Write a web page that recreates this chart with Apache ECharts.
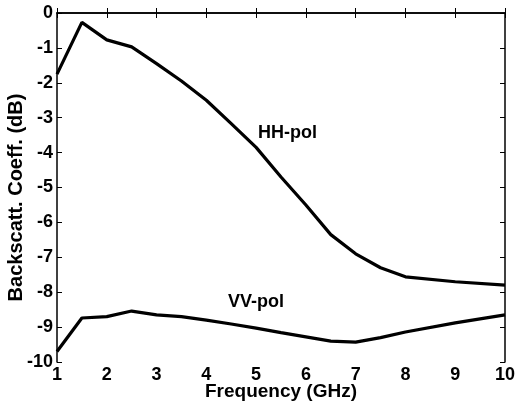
<!DOCTYPE html>
<html><head><meta charset="utf-8">
<script src="https://cdn.jsdelivr.net/npm/echarts@6/dist/echarts.min.js"></script>
<style>html,body{margin:0;padding:0;background:#fff}#c{width:518px;height:408px}</style>
</head><body><div id="c"></div>
<script>
const freq = [1, 1.5, 2, 2.5, 3, 3.5, 4, 4.5, 5, 5.5, 6, 6.5, 7, 7.5, 8, 9, 10];
const hhPol = [-1.75, -0.27, -0.77, -0.97, -1.45, -1.95, -2.5, -3.17, -3.85, -4.7, -5.5, -6.35, -6.9, -7.3, -7.56, -7.7, -7.8];
const vvPol = [-9.7, -8.74, -8.7, -8.54, -8.65, -8.7, -8.8, -8.91, -9.03, -9.16, -9.28, -9.4, -9.43, -9.3, -9.14, -8.88, -8.65];
const seriesNames = ['HH-pol', 'VV-pol'];
const xTitle = 'Frequency (GHz)';
const yTitle = 'Backscatt. Coeff. (dB)';

const font = 'Liberation Sans, Arial, sans-serif';
const chart = echarts.init(document.getElementById('c'));
const axisCommon = {
  axisLine: {show: true, lineStyle: {color: '#000', width: 1.5}},
  axisTick: {show: true, inside: true, length: 5, lineStyle: {color: '#000', width: 1}},
  splitLine: {show: false}
};
chart.setOption({
  animation: false,
  backgroundColor: '#fff',
  grid: {left: 57, right: 13, top: 13, bottom: 46, containLabel: false, outerBoundsMode: 'none'},
  xAxis: [
    Object.assign({type: 'value', min: 1, max: 10, interval: 1, position: 'bottom',
      name: xTitle, nameLocation: 'middle', nameGap: 20, nameMoveOverlap: false,
      nameTextStyle: {fontFamily: font, fontWeight: 'bold', fontSize: 19, color: '#000'},
      axisLabel: {fontFamily: font, fontWeight: 'bold', fontSize: 18, color: '#000', margin: 4}}, axisCommon),
    Object.assign({type: 'value', min: 1, max: 10, interval: 1, position: 'top',
      axisLabel: {show: false}}, axisCommon)
  ],
  yAxis: [
    Object.assign({type: 'value', min: -10, max: 0, interval: 1, position: 'left',
      name: yTitle, nameLocation: 'middle', nameGap: 31, nameMoveOverlap: false,
      nameTextStyle: {fontFamily: font, fontWeight: 'bold', fontSize: 20, color: '#000', padding: [0, 20, 0, 0]},
      axisLabel: {fontFamily: font, fontWeight: 'bold', fontSize: 18, color: '#000', margin: 4}}, axisCommon),
    Object.assign({type: 'value', min: -10, max: 0, interval: 1, position: 'right',
      axisLabel: {show: false}}, axisCommon)
  ],
  series: [
    {name: seriesNames[0], type: 'line', symbol: 'none', data: freq.map((f, i) => [f, hhPol[i]]),
      lineStyle: {color: '#000', width: 3.2}},
    {name: seriesNames[1], type: 'line', symbol: 'none', data: freq.map((f, i) => [f, vvPol[i]]),
      lineStyle: {color: '#000', width: 3.2}}
  ],
  graphic: [
    {type: 'text', left: 258, top: 124, style: {text: seriesNames[0], font: 'bold 18px ' + font, fill: '#000'}},
    {type: 'text', left: 228, top: 293, style: {text: seriesNames[1], font: 'bold 18px ' + font, fill: '#000'}}
  ]
});
</script></body></html>
